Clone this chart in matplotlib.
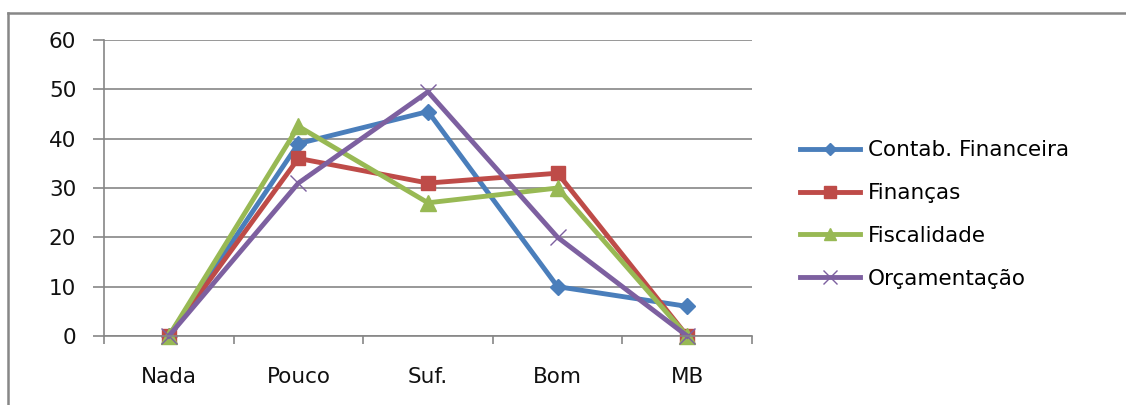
import matplotlib
matplotlib.use("Agg")
import matplotlib.pyplot as plt
from matplotlib.lines import Line2D

categories = ["Nada", "Pouco", "Suf.", "Bom", "MB"]
series_names = ["Contab. Financeira", "Finanças", "Fiscalidade", "Orçamentação"]
contab = [0, 39, 45.5, 10, 6]
financas = [0, 36, 31, 33, 0]
fiscalidade = [0, 42.5, 27, 30, 0]
orcamentacao = [0, 31, 49.5, 20, 0]
yticks = [0, 10, 20, 30, 40, 50, 60]

values = [contab, financas, fiscalidade, orcamentacao]
colors = ["#4A7EBB", "#BE4B48", "#98B954", "#7D60A0"]
markers = ["D", "s", "^", "x"]
msizes = [8, 10, 11, 12]
mews = [1, 1, 1, 1.0]

plt.rcParams['font.family'] = ['DejaVu Sans']
fig = plt.figure(figsize=(11.26, 4.05), dpi=100)
W, H = 1126, 405
ax = fig.add_axes([104 / W, 1 - 336 / H, (752 - 104) / W, (336 - 40) / H])

x = list(range(len(categories)))
for vals, c, m, ms, mew, name in zip(values, colors, markers, msizes, mews, series_names):
    ax.plot(x, vals, color=c, lw=3.5, marker=m, ms=ms, mfc=c, mec=c, mew=mew,
            label=name, solid_joinstyle='round', clip_on=False)

ax.set_xlim(-0.5, len(categories) - 0.5)
ax.set_ylim(0, 60)
ax.set_yticks(yticks)
ax.set_yticklabels([str(v) for v in yticks])
ax.yaxis.grid(True, color="#868686", lw=1.2)
ax.set_axisbelow(True)

ax.set_xticks([i - 0.5 for i in range(len(categories) + 1)])
ax.set_xticklabels([""] * (len(categories) + 1))
ax.set_xticks(x, minor=True)
ax.set_xticklabels(categories, minor=True)
ax.tick_params(axis='x', which='major', length=6, width=1.2, color="#868686")
ax.tick_params(axis='x', which='minor', length=0, pad=22, labelsize=15.5, labelcolor="#111111")
ax.tick_params(axis='y', length=8, width=1.2, color="#868686", pad=12, labelsize=15.5, labelcolor="#111111")

for s in ["top", "right"]:
    ax.spines[s].set_visible(False)
for s in ["left", "bottom"]:
    ax.spines[s].set_color("#868686")
    ax.spines[s].set_linewidth(1.2)

leg = ax.legend(loc="center left", bbox_to_anchor=(800 / W, 1 - 214.5 / H),
                bbox_transform=fig.transFigure, frameon=False, fontsize=15.5,
                handlelength=2.8, handletextpad=0.35, labelspacing=1.06,
                borderpad=0, borderaxespad=0, markerscale=0.8)

# outer frame
fig.add_artist(Line2D([8 / W, 1], [1 - 13 / H, 1 - 13 / H], color="#878787", lw=1.8,
                      transform=fig.transFigure))
fig.add_artist(Line2D([8 / W, 8 / W], [0, 1 - 13 / H], color="#878787", lw=1.8,
                      transform=fig.transFigure))

fig.savefig("out.png", dpi=100)
